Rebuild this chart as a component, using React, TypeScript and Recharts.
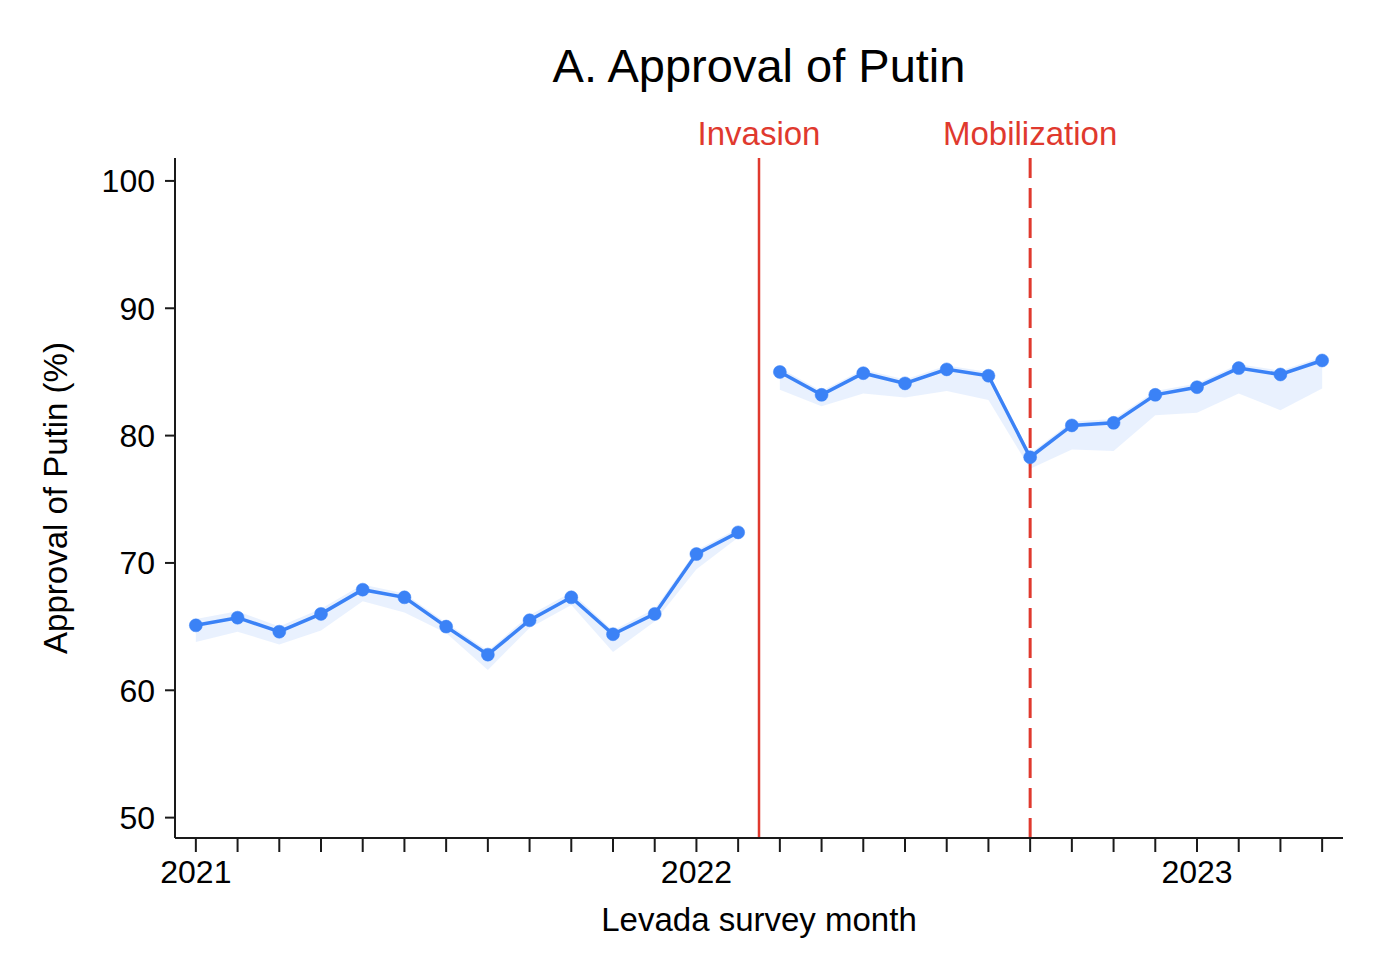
import React from "react";
import { Area, ComposedChart, Line, ReferenceLine, XAxis, YAxis } from "recharts";

// month index 0 = Jan 2021 ... 27 = Apr 2023
const months = Array.from({ length: 28 }, (_, i) => i);
const yearLabels: Record<number, string> = { 0: "2021", 12: "2022", 24: "2023" };
const yTicks = [50, 60, 70, 80, 90, 100];

// before invasion (Jan 2021 - Feb 2022)
const preApproval = [65.1, 65.7, 64.6, 66.0, 67.9, 67.3, 65.0, 62.8, 65.5, 67.3, 64.4, 66.0, 70.7, 72.4];
const preLow = [63.8, 64.6, 63.6, 64.7, 67.0, 66.1, 64.5, 61.6, 64.9, 66.7, 63.0, 65.4, 69.5, 72.0];
const preHigh = [65.6, 66.2, 65.0, 66.4, 68.3, 67.6, 65.3, 63.1, 65.9, 67.7, 64.7, 66.4, 71.0, 72.7];

// after invasion (Mar 2022 - Apr 2023)
const postApproval = [85.0, 83.2, 84.9, 84.1, 85.2, 84.7, 78.3, 80.8, 81.0, 83.2, 83.8, 85.3, 84.8, 85.9];
const postLow = [83.6, 82.3, 83.3, 83.0, 83.5, 82.8, 77.4, 78.9, 78.8, 81.6, 81.8, 83.3, 82.0, 83.7];
const postHigh = [85.3, 83.5, 85.2, 84.4, 85.5, 85.0, 78.6, 81.1, 81.3, 83.5, 84.1, 85.6, 85.1, 86.2];

const invasionMonth = 13.5;
const mobilizationMonth = 20;

const split = preApproval.length;
const data = months.map((m) => {
  const pre = m < split;
  const j = pre ? m : m - split;
  return {
    m,
    pre: pre ? preApproval[j] : null,
    preBand: pre ? [preLow[j], preHigh[j]] : null,
    post: pre ? null : postApproval[j],
    postBand: pre ? null : [postLow[j], postHigh[j]],
  };
});

const FONT = "'Liberation Sans', Arial, Helvetica, sans-serif";
const BLUE = "#3b82f6";
const RED = "#e0392e";
const AXIS = "#1a1a1a";

function MonthTick(props: any) {
  const { x, y, payload } = props;
  const label = yearLabels[payload.value];
  if (!label) return null;
  return (
    <text x={x} y={y} dy={29} textAnchor="middle" fontSize={32} fontFamily={FONT} fill="#000">
      {label}
    </text>
  );
}

const dotStyle = { r: 6.5, fill: BLUE, stroke: BLUE, strokeWidth: 0.5 };

export default function App() {
  return (
    <div style={{ position: "absolute", left: 0, top: 0, width: 1392, height: 967, background: "#fff" }}>
      <ComposedChart
        width={1392}
        height={967}
        data={data}
        margin={{ top: 158, right: 49, left: 75, bottom: 69 }}
      >
        <XAxis
          dataKey="m"
          type="number"
          domain={[-0.5, 27.5]}
          ticks={months}
          interval={0}
          height={60}
          tickSize={14}
          tickMargin={2}
          tick={<MonthTick />}
          axisLine={{ stroke: AXIS, strokeWidth: 2 }}
          tickLine={{ stroke: AXIS, strokeWidth: 2 }}
        />
        <YAxis
          type="number"
          domain={[48.4, 101.8]}
          ticks={yTicks}
          width={100}
          tickSize={10}
          tickMargin={10}
          allowDataOverflow
          axisLine={{ stroke: AXIS, strokeWidth: 2 }}
          tickLine={{ stroke: AXIS, strokeWidth: 2 }}
          tick={{ fontSize: 32, fontFamily: FONT, fill: "#000" }}
        />
        <ReferenceLine
          x={invasionMonth}
          stroke={RED}
          strokeWidth={2.5}
          label={{ value: "Invasion", position: "top", offset: 13, fill: RED, fontSize: 33, fontFamily: FONT }}
        />
        <ReferenceLine
          x={mobilizationMonth}
          stroke={RED}
          strokeWidth={3}
          strokeDasharray="20 10"
          label={{ value: "Mobilization", position: "top", offset: 13, fill: RED, fontSize: 33, fontFamily: FONT }}
        />
        <Area dataKey="preBand" stroke="none" fill={BLUE} fillOpacity={0.11} isAnimationActive={false} activeDot={false} />
        <Area dataKey="postBand" stroke="none" fill={BLUE} fillOpacity={0.11} isAnimationActive={false} activeDot={false} />
        <Line
          dataKey="pre"
          stroke={BLUE}
          strokeWidth={3.5}
          dot={dotStyle}
          activeDot={false}
          isAnimationActive={false}
        />
        <Line
          dataKey="post"
          stroke={BLUE}
          strokeWidth={3.5}
          dot={dotStyle}
          activeDot={false}
          isAnimationActive={false}
        />
        <text x={759} y={82} textAnchor="middle" fontSize={47} fontFamily={FONT} fill="#000">
          A. Approval of Putin
        </text>
        <text x={759} y={931} textAnchor="middle" fontSize={33} fontFamily={FONT} fill="#000">
          Levada survey month
        </text>
        <text
          x={55}
          y={498}
          transform="rotate(-90, 55, 498)"
          textAnchor="middle"
          dominantBaseline="central"
          fontSize={33}
          fontFamily={FONT}
          fill="#000"
        >
          Approval of Putin (%)
        </text>
      </ComposedChart>
    </div>
  );
}
